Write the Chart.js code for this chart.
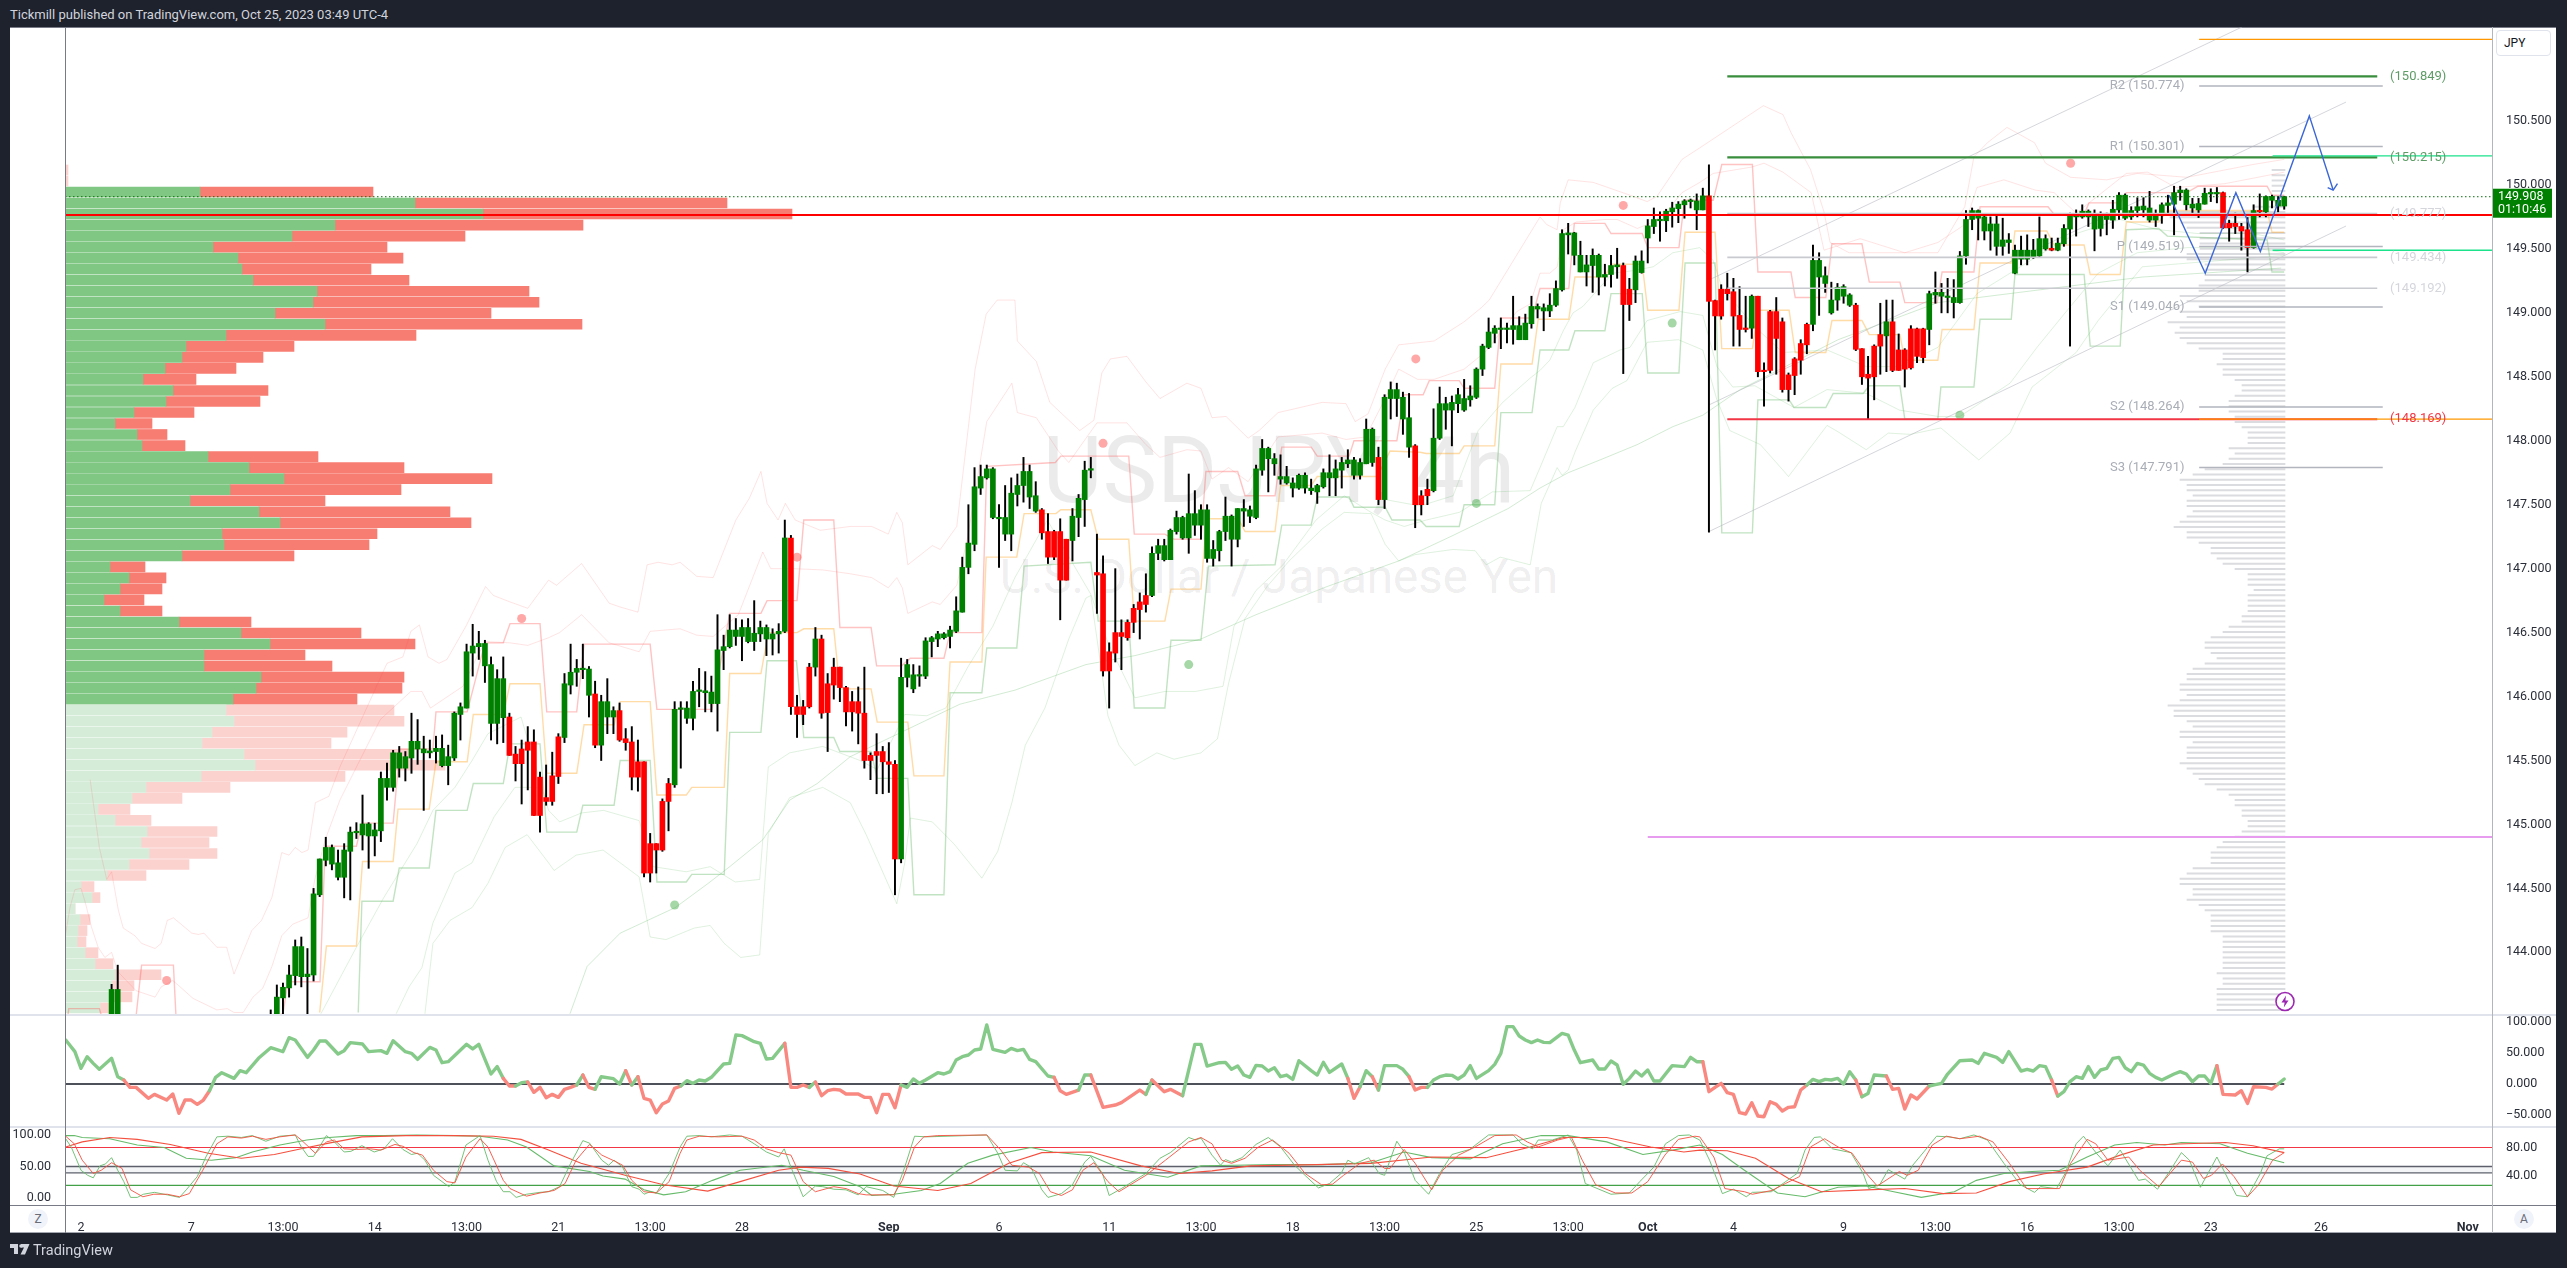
<!DOCTYPE html>
<html>
<head>
<meta charset="utf-8">
<title>USDJPY 4h</title>
<script src="https://cdn.jsdelivr.net/npm/chart.js@4"></script>
<style>
  html, body { margin: 0; padding: 0; width: 2567px; height: 1268px; overflow: hidden; background: #1e222d; font-family: Roboto, sans-serif; }
  canvas { position: absolute; left: 10px; }
  .abs { position: absolute; }
  .panel { left: 10px; top: 27px; width: 2546px; height: 1206px; background: #fff; box-shadow: inset 0 1px 0 #787b86; }
  .mark { left: 0; width: 2558px; text-align: center; color: rgba(19,23,34,0.085); white-space: nowrap; }
  .pill { width: 20px; height: 20px; top: 1209px; border-radius: 50%; background: #f0f3fa; color: #6a6d78; font-size: 12px; line-height: 20px; text-align: center; }
</style>
</head>
<body>
<div class="abs panel"></div>
<div class="abs mark" style="top:416px;font-size:92px;line-height:110px">USDJPY, 4h</div>
<div class="abs mark" style="top:551px;font-size:47.5px;line-height:52px">U.S. Dollar / Japanese Yen</div>
<canvas id="vpChart" width="2546" height="987" style="top:27px"></canvas>
<canvas id="priceChart" width="2546" height="987" style="top:27px"></canvas>
<canvas id="momChart" width="2546" height="112" style="top:1014px"></canvas>
<canvas id="stochChart" width="2546" height="107" style="top:1126px"></canvas>

<div class="abs" style="left:10px;top:1014px;width:2546px;height:2px;background:#e0e3eb"></div>
<div class="abs" style="left:10px;top:1126px;width:2546px;height:2px;background:#e0e3eb"></div>
<div class="abs" style="left:10px;top:1205px;width:2546px;height:1px;background:#787b86"></div>
<div class="abs" style="left:10px;top:1232px;width:2546px;height:1px;background:#a3a6af"></div>
<div class="abs" style="left:65px;top:27px;width:1px;height:1206px;background:#787b86"></div>
<div class="abs" style="left:2492px;top:27px;width:1px;height:1206px;background:#b2b5be"></div>

<div class="abs" style="left:10px;top:7px;color:#d1d4dc;font-size:13px;line-height:16px;white-space:nowrap">Tickmill published on TradingView.com, Oct 25, 2023 03:49 UTC-4</div>
<div class="abs" style="left:2493px;top:28px;width:62px;height:32px;background:#fff"></div>
<div class="abs" style="left:2496px;top:30px;width:55px;height:26px;box-sizing:border-box;background:#fff;border:1px solid #e0e3eb;border-radius:4px;color:#131722;font-size:12px;line-height:24px;padding-left:7px">JPY</div>
<div class="abs pill" style="left:28px">Z</div>
<div class="abs pill" style="left:2514px">A</div>
<svg class="abs" style="left:2275px;top:991px" width="20" height="21" viewBox="0 0 20 21">
  <circle cx="10" cy="10.5" r="9" fill="#fff" stroke="#9c27b0" stroke-width="1.6"/>
  <path d="M11 4.5 L6.5 11.5 H9.6 L8.8 16.5 L13.5 9.5 H10.4 Z" fill="#9c27b0"/>
</svg>
<svg class="abs" style="left:10px;top:1244px" width="20" height="12" viewBox="0 0 20 12">
  <path d="M0 0 H8 V10 H4 V4 H0 Z M11 0 H19.5 L15 10.5 H10.5 L14 3.5 H11 Z" fill="#d1d4dc"/>
  <circle cx="11" cy="2" r="1.8" fill="#d1d4dc"/>
</svg>
<div class="abs" style="left:33px;top:1242px;color:#d1d4dc;font-size:14.5px;line-height:18px">TradingView</div>

<script>
// candles. arrays start at bar 5, bars 7-30 sit below the pane
const firstBar = 5;
const gap = Array(24).fill(null);
const opens = [143.30,143.30,...gap,
  143.30,143.30,143.644,143.722,143.818,143.81,143.81,143.823,144.45,
  144.72,144.69,144.587,144.587,144.79,144.935,144.918,144.91,144.91,144.95,
  145.29,145.29,145.44,145.44,145.52,145.59,145.56,145.56,145.57,145.46,
  145.46,145.52,145.86,145.91,146.34,146.39,146.24,145.79,145.79,145.835,
  145.84,145.55,145.59,145.645,145.645,145.37,145.21,145.38,145.685,145.68,
  146.09,146.19,146.21,146.01,146.02,145.62,145.84,145.84,145.89,145.67,
  145.645,145.49,145.49,144.85,144.85,145.18,145.32,145.31,145.90,145.83,
  145.83,146.04,146.03,145.945,145.945,146.36,146.39,146.47,146.47,146.43,
  146.43,146.49,146.45,146.45,146.49,146.51,147.24,145.92,145.92,146.23,
  146.23,146.45,146.10,146.23,146.23,146.07,145.96,145.96,145.87,145.54,
  145.57,145.57,145.49,145.47,144.73,146.15,146.06,146.16,146.16,146.43,
  146.45,146.46,146.47,146.51,146.66,147.01,147.19,147.63,147.71,147.40,
  147.39,147.27,147.27,147.58,147.65,147.56,147.45,147.46,147.29,147.29,
  147.29,147.23,147.22,147.40,147.54,147.77,146.97,146.96,146.35,146.50,
  146.50,146.58,146.69,146.74,146.79,146.79,147.12,147.07,147.07,147.29,
  147.24,147.24,147.34,147.34,147.08,147.08,147.14,147.29,147.23,147.23,
  147.45,147.41,147.40,147.77,147.86,147.82,147.70,147.67,147.63,147.63,
  147.63,147.61,147.60,147.64,147.71,147.71,147.77,147.82,147.73,147.73,
  147.82,147.83,147.87,147.54,148.33,148.33,148.17,147.95,147.96,147.57,
  147.62,147.61,148.02,148.24,148.24,148.29,148.24,148.32,148.34,148.56,
  148.73,148.84,148.87,148.87,148.87,148.79,148.79,148.915,149.03,149.015,
  149.015,149.06,149.18,149.61,149.45,149.32,149.32,149.37,149.28,149.28,
  149.30,149.36,149.37,149.185,149.18,149.315,149.585,149.675,149.72,149.72,
  149.79,149.815,149.845,149.87,149.805,149.805,149.915,149.096,149.185,149.185,
  149.165,148.98,148.88,148.88,149.13,148.55,149.01,149.01,148.93,148.515,
  148.64,148.76,148.91,148.91,149.28,149.23,149.00,149.10,149.13,149.06,
  149.06,148.72,148.52,148.74,148.83,148.82,148.93,148.71,148.71,148.875,
  148.875,148.875,148.87,149.14,149.13,149.12,149.08,149.08,149.445,149.73,
  149.74,149.64,149.64,149.52,149.52,149.55,149.31,149.42,149.42,149.435,
  149.445,149.50,149.505,149.49,149.54,149.655,149.75,149.75,149.75,149.655,
  149.66,149.73,149.725,149.805,149.74,149.75,149.80,149.805,149.725,149.725,
  149.765,149.84,149.85,149.94,149.845,149.82,149.805,149.85,149.93,149.93,
  149.94,149.70,149.70,149.675,149.65,149.51,149.80,149.79,149.88,149.835,149.835];
const highs = [143.75,143.90,...gap,
  143.55,143.745,143.76,143.90,144.097,144.12,144.03,144.50,144.73,
  144.90,144.84,144.80,144.85,144.98,145.014,145.23,145.014,145.01,145.41,
  145.48,145.58,145.61,145.57,145.87,145.82,145.69,145.66,145.69,145.70,
  145.62,145.88,145.95,146.41,146.565,146.51,146.44,146.31,146.21,146.31,
  145.87,145.61,145.66,145.765,145.74,145.41,145.465,145.565,145.71,146.18,
  146.41,146.29,146.41,146.235,146.12,146.01,146.14,145.92,145.95,145.75,
  145.765,145.66,145.49,144.93,144.85,145.20,145.36,145.96,145.96,145.96,
  146.12,146.22,146.195,146.16,146.64,146.48,146.64,146.61,146.60,146.61,
  146.75,146.59,146.56,146.53,146.57,147.38,147.26,146.01,145.97,146.26,
  146.54,146.48,146.18,146.30,146.23,146.08,146.04,146.075,146.23,145.56,
  145.71,145.61,145.64,145.50,146.30,146.29,146.25,146.24,146.46,146.47,
  146.51,146.50,146.55,146.78,147.09,147.50,147.79,147.81,147.81,147.79,
  147.50,147.65,147.71,147.74,147.87,147.81,147.68,147.47,147.43,147.30,
  147.39,147.23,147.47,147.58,147.84,147.87,147.27,147.10,146.42,147.00,
  146.60,146.60,146.72,146.81,146.96,147.17,147.23,147.23,147.31,147.45,
  147.41,147.74,147.61,147.50,147.50,147.22,147.30,147.56,147.42,147.47,
  147.54,147.49,147.81,148.01,147.95,147.90,147.89,147.80,147.71,147.74,
  147.75,147.70,147.66,147.78,147.89,147.85,147.87,147.93,147.87,147.86,
  148.17,148.10,147.95,148.36,148.46,148.45,148.38,148.37,147.97,147.61,
  147.70,148.25,148.42,148.34,148.35,148.41,148.48,148.43,148.57,148.755,
  148.96,148.90,148.96,148.92,149.13,148.97,148.99,149.13,149.07,149.07,
  149.15,149.25,149.65,149.70,149.63,149.56,149.45,149.50,149.46,149.38,
  149.45,149.505,149.39,149.27,149.445,149.485,149.73,149.82,149.79,149.81,
  149.865,149.87,149.885,149.89,149.93,149.975,150.157,149.10,149.22,149.31,
  149.27,149.205,149.13,149.14,149.13,148.61,149.02,149.12,148.96,148.53,
  148.65,148.79,148.92,149.53,149.47,149.36,149.24,149.23,149.22,149.15,
  149.075,148.72,148.66,148.75,149.075,149.10,149.10,148.835,148.72,148.90,
  148.88,148.88,149.17,149.32,149.23,149.27,149.26,149.48,149.80,149.82,
  149.805,149.765,149.75,149.765,149.74,149.62,149.53,149.60,149.61,149.575,
  149.75,149.61,149.585,149.585,149.69,149.78,149.805,149.845,149.805,149.805,
  149.79,149.78,149.88,149.94,149.93,149.83,149.90,149.90,149.95,149.805,
  149.86,149.92,149.99,149.99,149.97,149.895,149.895,149.975,149.97,149.98,
  149.945,149.725,149.78,149.70,149.745,149.845,149.93,149.915,149.92,149.91,149.91];
const lows = [143.20,143.20,...gap,
  143.20,143.25,143.40,143.65,143.745,143.73,143.40,143.776,144.436,
  144.676,144.645,144.566,144.426,144.41,144.89,144.80,144.657,144.754,144.866,
  145.19,145.26,145.37,145.34,145.40,145.47,145.11,145.52,145.48,145.45,
  145.31,145.50,145.66,145.91,146.16,146.29,146.11,145.66,145.63,145.64,
  145.54,145.34,145.16,145.27,145.07,144.94,145.15,145.15,145.32,145.64,
  146.02,146.08,146.14,145.84,145.60,145.50,145.71,145.71,145.65,145.58,
  145.27,145.26,144.59,144.55,144.62,144.79,144.95,145.29,145.44,145.79,
  145.74,145.92,145.88,145.88,145.73,146.21,146.38,146.40,146.28,146.42,
  146.36,146.43,146.32,146.325,146.34,146.50,145.86,145.68,145.78,145.91,
  146.16,145.83,145.57,145.98,145.96,145.77,145.73,145.63,145.44,145.35,
  145.24,145.24,145.25,144.45,144.70,146.075,146.03,146.08,146.14,146.31,
  146.39,146.45,146.38,146.50,146.66,146.96,147.14,147.58,147.70,147.39,
  147.01,147.22,147.14,147.49,147.52,147.47,147.44,147.23,147.04,147.07,
  146.60,146.91,147.06,147.25,147.33,147.71,146.65,146.16,145.91,146.27,
  146.21,146.44,146.50,146.45,146.66,146.78,147.07,147.06,147.07,147.27,
  147.23,147.12,147.26,147.23,147.05,147.02,147.06,147.22,147.02,147.17,
  147.33,147.36,147.39,147.73,147.60,147.73,147.66,147.66,147.56,147.62,
  147.59,147.58,147.51,147.63,147.57,147.57,147.63,147.79,147.70,147.70,
  147.82,147.80,147.50,147.47,148.17,148.19,148.05,147.87,147.32,147.42,
  147.50,147.60,148.01,148.09,147.96,148.22,148.23,148.27,148.33,148.51,
  148.72,148.765,148.72,148.765,148.755,148.79,148.79,148.88,148.96,148.86,
  148.97,149.05,149.17,149.46,149.375,149.32,149.21,149.16,149.14,149.21,
  149.20,149.27,148.525,148.94,149.08,149.31,149.39,149.62,149.56,149.635,
  149.67,149.705,149.74,149.82,149.65,149.805,147.285,148.71,148.95,149.10,
  148.74,148.74,148.85,148.80,148.50,148.27,148.53,148.52,148.38,148.31,
  148.36,148.52,148.68,148.86,148.98,149.16,148.99,149.02,149.075,149.05,
  148.705,148.44,148.17,148.32,148.52,148.54,148.54,148.55,148.42,148.56,
  148.61,148.61,148.75,149.075,149.00,149.00,148.96,149.075,149.38,149.65,
  149.57,149.57,149.49,149.45,149.45,149.465,149.305,149.375,149.375,149.425,
  149.44,149.49,149.485,149.485,149.52,148.74,149.60,149.74,149.675,149.485,
  149.60,149.61,149.66,149.73,149.73,149.73,149.75,149.75,149.71,149.675,
  149.70,149.76,149.61,149.88,149.805,149.775,149.745,149.85,149.87,149.86,
  149.66,149.56,149.62,149.49,149.32,149.505,149.75,149.75,149.82,149.79,149.81];
const closes = [143.71,143.71,...gap,
  143.45,143.65,143.727,143.823,144.045,144.045,143.83,144.457,144.73,
  144.82,144.82,144.70,144.80,144.94,144.945,145.004,145.004,144.957,145.36,
  145.36,145.56,145.56,145.53,145.65,145.65,145.59,145.575,145.595,145.595,
  145.53,145.87,145.92,146.35,146.395,146.415,146.415,146.25,146.14,146.14,
  145.54,145.475,145.475,145.58,145.07,145.07,145.18,145.18,145.375,146.10,
  146.19,146.22,146.22,146.215,145.62,145.96,145.96,145.89,145.66,145.64,
  145.37,145.37,144.62,144.62,144.80,144.80,145.18,145.90,145.91,145.91,
  146.04,146.05,146.045,146.035,146.365,146.39,146.52,146.52,146.54,146.54,
  146.495,146.54,146.54,146.49,146.51,147.24,145.92,145.86,145.86,145.92,
  146.45,145.87,145.875,146.09,146.07,145.88,145.88,145.87,145.50,145.50,
  145.54,145.49,145.47,144.73,146.15,146.25,146.17,146.17,146.435,146.46,
  146.49,146.49,146.52,146.67,147.01,147.20,147.64,147.72,147.78,147.78,
  147.40,147.40,147.59,147.65,147.76,147.76,147.57,147.28,147.09,147.09,
  146.91,146.91,147.41,147.55,147.77,147.78,146.95,146.20,146.20,146.34,
  146.47,146.46,146.58,146.68,146.72,147.12,147.18,147.18,147.30,147.40,
  147.40,147.43,147.43,147.46,147.46,147.15,147.29,147.41,147.41,147.47,
  147.47,147.46,147.78,147.94,147.94,147.86,147.72,147.72,147.67,147.73,
  147.73,147.63,147.65,147.75,147.75,147.78,147.83,147.85,147.85,147.83,
  148.09,148.09,147.54,148.34,148.40,148.40,148.34,148.18,147.50,147.50,
  147.57,148.02,148.29,148.29,148.30,148.36,148.33,148.35,148.56,148.74,
  148.85,148.88,148.88,148.88,148.90,148.90,148.92,149.05,149.05,149.04,
  149.06,149.19,149.62,149.625,149.625,149.45,149.375,149.45,149.45,149.30,
  149.37,149.375,149.065,149.065,149.405,149.405,149.68,149.73,149.73,149.795,
  149.82,149.85,149.875,149.875,149.875,149.915,149.09,148.976,148.975,149.15,
  148.975,148.87,148.87,149.13,148.54,148.54,148.55,148.80,148.40,148.40,
  148.51,148.63,148.75,149.41,149.41,149.29,149.10,149.20,149.205,149.14,
  148.715,148.50,148.49,148.50,148.74,148.93,148.55,148.55,148.56,148.57,
  148.66,148.65,149.15,149.16,149.16,149.13,149.12,149.445,149.73,149.80,
  149.80,149.75,149.695,149.695,149.57,149.57,149.49,149.49,149.49,149.49,
  149.58,149.58,149.49,149.545,149.66,149.76,149.76,149.795,149.795,149.77,
  149.77,149.77,149.81,149.92,149.92,149.80,149.83,149.835,149.82,149.77,
  149.845,149.86,149.94,149.96,149.96,149.85,149.855,149.935,149.94,149.94,
  149.665,149.665,149.675,149.64,149.51,149.80,149.79,149.91,149.91,149.88,149.908];

// volume profile on the left, rows from the top of the pane
const vpLevels = [150.117,150.031,149.945,149.859,149.773,149.686,149.600,149.514,149.428,149.342,149.255,149.169,149.083,148.997,148.911,148.824,148.738,148.652,148.566,148.480,148.393,148.307,148.221,148.135,148.049,147.962,147.876,147.790,147.704,147.618,147.531,147.445,147.359,147.273,147.187,147.100,147.014,146.928,146.842,146.756,146.669,146.583,146.497,146.411,146.325,146.238,146.152,146.066,145.980,145.894,145.807,145.721,145.635,145.549,145.463,145.376,145.290,145.204,145.118,145.032,144.945,144.859,144.773,144.687,144.601,144.514,144.428,144.342,144.256,144.170,144.083,143.997,143.911,143.825,143.739,143.652,143.566];
const vpBuy = [0,0,135,350,418,270,227,148,173,177,188,252,248,210,260,161,121,117,100,78,108,101,69,50,72,77,143,184,219,165,125,194,215,157,159,117,45,64,55,39,55,114,176,205,139,139,196,191,168,161,169,147,137,179,190,136,81,67,33,50,82,76,84,64,42,16,27,10,15,13,12,20,30,50,47,46,35];
const vpSell = [3,3,173,312,309,248,173,174,165,129,156,212,226,216,257,190,108,81,71,53,95,94,60,37,30,43,110,155,208,171,135,191,191,155,145,112,35,37,42,40,42,72,120,145,101,128,143,146,124,168,170,135,129,167,190,144,84,50,32,36,70,68,68,60,39,13,8,0,10,9,9,13,18,46,22,21,12];
const vpValueAreaEnd = 49;

// fixed range profile on the right
const rightLevels = [150.117,150.076,150.035,149.994,149.953,149.912,149.871,149.830,149.789,149.748,149.707,149.665,149.624,149.583,149.542,149.501,149.460,149.419,149.378,149.337,149.296,149.255,149.214,149.173,149.132,149.091,149.050,149.009,148.968,148.927,148.886,148.845,148.803,148.762,148.721,148.680,148.639,148.598,148.557,148.516,148.475,148.434,148.393,148.352,148.311,148.270,148.229,148.188,148.147,148.106,148.065,148.024,147.983,147.941,147.900,147.859,147.818,147.777,147.736,147.695,147.654,147.613,147.572,147.531,147.490,147.449,147.408,147.367,147.326,147.285,147.244,147.203,147.162,147.121,147.079,147.038,146.997,146.956,146.915,146.874,146.833,146.792,146.751,146.710,146.669,146.628,146.587,146.546,146.505,146.464,146.423,146.381,146.340,146.299,146.258,146.217,146.176,146.135,146.094,146.053,146.012,145.971,145.930,145.889,145.848,145.807,145.766,145.725,145.684,145.643,145.602,145.560,145.519,145.478,145.437,145.396,145.355,145.314,145.273,145.232,145.191,145.150,145.109,145.068,145.027,144.986,144.945,144.904,144.863,144.822,144.781,144.740,144.698,144.657,144.616,144.575,144.534,144.493,144.452,144.411,144.370,144.329,144.288,144.247,144.206,144.165,144.124,144.083,144.042,144.001,143.959,143.918,143.877,143.836,143.795,143.754,143.713,143.672,143.631,143.590,143.549,143.508];
const rightVolumes = [13,13,13,13,13,13,13,32,117,115,104,98,85,85,85,85,98,98,80,80,80,80,86,86,105,98,86,105,98,117,105,110,105,98,86,62,62,68,62,62,50,43,43,50,56,56,56,50,50,43,37,37,37,56,50,56,62,80,92,105,98,98,92,98,98,92,98,105,111,98,98,86,74,74,68,62,50,37,37,37,31,37,37,37,37,43,43,56,62,74,80,80,74,68,80,92,98,98,105,105,98,105,117,111,111,98,92,105,105,92,98,98,98,105,98,92,86,80,68,56,50,50,43,43,37,37,43,50,62,68,74,74,74,92,98,105,105,92,92,98,86,80,74,74,74,74,62,62,62,62,62,62,62,68,62,62,68,68,68,68,68,68];

// band lines as [bar, price]
const upperStep = [[-2.4,143.4],[-2,143.56],[3,143.56],[4,143.4],[9,143.5],[9.9,143.90],[15.1,143.90],[15.5,143.52],[16,143.3],[33,143.52],[33.8,143.77],[39.05,143.77],[39.9,144.83],[45,144.83],[45.9,145.01],[51,145.01],[52.1,145.59],[57.5,145.59],[58,145.88],[63.1,145.88],[66,146.42],[69,146.42],[70.1,146.57],[75,146.57],[76.1,145.88],[81,145.88],[82.2,146.41],[93,146.41],[94.1,145.90],[103.1,145.90],[106,146.65],[111.1,146.65],[112.1,146.75],[117,146.75],[118.1,147.38],[123,147.38],[124,146.54],[129.1,146.54],[130,146.24],[134.1,146.24],[135.5,146.30],[141,146.30],[142,146.50],[147.2,146.50],[148,147.80],[159.2,147.83],[160.1,147.88],[171.2,147.88],[172.1,147.27],[177.1,147.27],[178.6,147.23],[183,147.23],[183.8,147.76],[189,147.76],[190.2,147.57],[195.1,147.57],[196.2,147.95],[201,147.95],[202,147.88],[207.2,147.88],[208,148.0],[215,148.0],[216.2,148.36],[219.3,148.36],[220.3,148.47],[225.2,148.47],[226,148.41],[231,148.41],[232,148.96],[237.1,148.96],[238.4,149.19],[243.1,149.19],[244,149.70],[249,149.70],[250,149.62],[255.1,149.62],[256,149.51],[261.1,149.51],[262,149.88],[266.7,149.88],[268.1,150.16],[273.1,150.16],[274,149.32],[279.4,149.32],[280.1,149.12],[285.1,149.12],[286.1,149.54],[291,149.54],[292.2,149.24],[297.2,149.24],[298,149.08],[303.3,149.08],[304.1,149.32],[309.3,149.32],[310.3,149.83],[321.4,149.83],[322.4,149.77],[327.3,149.77],[328.1,149.86],[333.2,149.86],[334.2,149.94],[344.1,149.94],[345.9,149.99],[357.2,149.99],[358,149.92],[360,149.92]];
const midStep = [[39,143.53],[40.1,144.05],[45,144.05],[46,144.71],[51,144.71],[51.8,145.12],[56.9,145.12],[58,145.49],[63.1,145.49],[64.1,145.86],[69,145.86],[70.1,146.10],[75,146.10],[76.1,145.40],[81,145.40],[82.2,145.78],[87.1,145.78],[88.1,145.96],[93,145.96],[94.1,145.23],[98.9,145.23],[99.8,145.29],[105.1,145.29],[106,146.18],[111.1,146.18],[112.3,146.50],[117,146.50],[118.1,146.53],[123,146.53],[124,146.06],[129.1,146.06],[130.1,145.80],[135.1,145.80],[136.1,145.38],[141,145.38],[142,146.27],[147.2,146.27],[147.9,147.09],[152.9,147.09],[154.1,147.43],[159.3,147.43],[160.1,147.46],[165,147.46],[166.2,147.23],[171.2,147.23],[172.1,146.59],[177.1,146.59],[178.1,146.84],[183,146.84],[183.9,147.39],[189.1,147.39],[190.2,147.29],[195.1,147.29],[196,147.65],[201,147.65],[202,147.72],[211.8,147.72],[213.9,147.92],[218.8,147.91],[219.8,147.90],[225.2,147.90],[226,147.96],[231,147.96],[232,148.60],[237.1,148.60],[238.1,148.95],[243.1,148.95],[244.1,149.28],[249,149.28],[250,149.38],[255.1,149.38],[256,149.02],[261.1,149.02],[262.1,149.63],[267,149.63],[268.1,148.72],[273.1,148.72],[274,149.02],[279.1,149.02],[280.1,148.69],[285.1,148.69],[286.1,148.94],[291,148.94],[292.2,148.83],[297.2,148.83],[298,148.63],[303.4,148.63],[304.1,148.87],[309.3,148.87],[310.3,149.39],[315.4,149.39],[316,149.64],[321.2,149.64],[322.4,149.53],[327.3,149.53],[328.3,149.30],[333.2,149.30],[334.2,149.71],[339.5,149.71],[340.9,149.80],[357.2,149.80],[358,149.63],[360,149.63]];
const lowerStep = [[45.3,143.53],[45.9,144.40],[51,144.40],[52,144.66],[56.9,144.66],[58,145.11],[63.1,145.11],[64.1,145.32],[69,145.32],[70.1,145.63],[75,145.63],[76.1,144.94],[81,144.94],[82,145.15],[87.1,145.15],[88.1,145.50],[93,145.50],[94.1,144.55],[98.9,144.55],[99.8,144.61],[105.1,144.61],[106,145.72],[111.1,145.72],[112.1,146.28],[116.9,146.28],[118.1,145.68],[123,145.68],[124,145.57],[129.1,145.57],[130.1,145.36],[135.1,145.36],[136.1,144.45],[141,144.45],[142,146.03],[147.2,146.03],[148,146.38],[152.9,146.38],[154.1,147.02],[165,147.05],[166.2,146.59],[171.2,146.59],[172.1,145.91],[177.1,145.91],[178.1,146.44],[183,146.44],[184.2,147.02],[195.1,147.03],[196.2,147.34],[201,147.34],[202,147.56],[207.2,147.56],[208,147.48],[213.1,147.48],[214.2,147.38],[218.8,147.38],[219.8,147.33],[225.2,147.33],[226,147.50],[231,147.50],[232,148.22],[237.1,148.22],[238.4,148.71],[243.1,148.71],[244.1,148.86],[249,148.86],[250,149.15],[255.1,149.15],[256,148.53],[261.1,148.53],[262.1,149.39],[267,149.39],[268.1,147.28],[273.1,147.28],[274,148.32],[279.1,148.32],[279.9,148.26],[285.1,148.26],[286.3,148.37],[291.2,148.37],[292.2,148.43],[297.2,148.43],[298,148.17],[303.4,148.17],[303.9,148.42],[309.3,148.42],[310.3,148.95],[315.4,148.95],[316,149.30],[321.4,149.30],[322.1,149.30],[327.3,149.30],[328.3,148.74],[333.2,148.74],[334.2,149.65],[339.5,149.66],[340.9,149.60],[357.2,149.57],[358,149.32],[360,149.32]];
const upperBand1 = [[1.5,145.35],[3,144.82],[4.2,144.57],[5,144.63],[6.1,144.33],[6.9,144.19],[8.8,144.13],[9.9,144.07],[12.1,144.03],[13.1,144.07],[14.1,144.25],[15.1,144.27],[18.1,144.15],[19.2,144.14],[20.1,144.15],[22.2,144.04],[23.8,144.04],[25,143.83],[27.9,144.17],[29.5,144.25],[31.2,144.43],[32.8,144.78],[34,144.76],[35,144.82],[36.1,144.78],[37.1,144.80],[38.3,145.17],[40.5,145.22],[42.3,145.45],[50,146.26],[52.6,146.31],[53.9,146.51],[55.3,146.56],[56.7,146.31],[58.5,146.26],[59.8,146.29],[62.9,146.55],[66.1,146.86],[67.4,146.79],[70.1,146.74],[73,146.69],[76.4,146.91],[77.7,146.87],[81.8,147.04],[86.3,146.73],[88.1,146.70],[91,146.66],[92.5,147.03],[94.3,147.05],[96.6,147.03],[97.9,147.05],[100.6,146.94],[103.3,146.93],[107,147.38],[109.2,147.55],[111.1,147.76],[112.1,147.51],[113.9,147.38],[115.1,147.51],[116.7,147.38],[120.8,147.30],[125.7,147.33],[129.2,147.33],[131.9,147.27],[133.3,147.44],[134.2,147.36],[135.1,147.03],[139.1,147.18],[140.4,147.15],[143.1,147.33],[146.1,148.56],[147.9,148.99],[149.7,149.10],[152.6,149.10],[153,148.78],[156.1,148.62],[158.3,148.30],[163.2,148.08],[165.5,148.16],[166.8,148.53],[168.2,148.64],[170.9,148.66],[174,148.46],[176.3,148.33],[180.7,148.45],[183,148.41],[184.8,148.18],[187.1,148.19],[190.7,148.02],[192.5,148.08],[195.6,148.22],[202.8,148.30],[206.7,148.29],[208.2,148.15],[210.3,148.21],[213.1,148.56],[215.3,148.75],[221.1,148.78],[226,148.93],[228.8,149.04],[230.1,149.10],[238.4,149.75],[239.5,149.69],[241.2,149.65],[241.7,149.86],[243,150.04],[247.1,150.02],[253.1,149.92],[255.9,149.87],[257.5,149.91],[261.6,150.20],[264.5,150.29],[274.9,150.62],[278.1,150.55],[279.4,150.41],[282.6,150.12],[284.8,149.79],[285.8,149.55],[288.9,149.47],[303.4,149.47],[307.8,149.83],[309.3,150.22],[311.5,150.33],[314.7,150.45],[319.2,150.33],[321,150.17],[325.1,150.06],[331,150.04],[336,150.09],[344.1,150.06],[354.9,150.16],[360,150.20]];
const upperBand2 = [[-2.6,144.12],[-1.8,144.35],[-1,144.49],[0,144.50],[.7,144.39],[1.7,144.20],[2.8,144.04],[3.9,143.96],[5,144.00],[6,143.85],[9,143.70],[12.1,143.65],[13.1,143.73],[15,143.78],[16.2,143.73],[18.3,143.64],[22.2,143.55],[23.9,143.56],[25,143.53],[26.5,143.53],[28.1,143.65],[29.7,143.72],[31.2,143.89],[32.8,144.13],[34.6,144.22],[37.1,144.27],[38.2,144.57],[39.9,144.88],[42.3,145.19],[48.9,145.82],[53.9,146.04],[55.7,146.04],[57.1,145.91],[62.4,146.08],[64.7,146.31],[66.1,146.43],[70.1,146.42],[73,146.40],[76.4,146.46],[78.2,146.50],[81.8,146.64],[86.3,146.42],[91.2,146.35],[93,146.51],[97.9,146.53],[100.6,146.48],[103.3,146.47],[107.4,146.64],[111.4,147.13],[112.7,147.00],[116.3,147.00],[121.2,146.99],[125.7,146.96],[129.2,146.93],[131.9,146.85],[133.3,146.93],[134.2,146.85],[135.1,146.65],[139.1,146.74],[140.4,146.72],[143.1,146.87],[144.9,147.25],[148,148.15],[152.1,148.45],[153,148.22],[156.1,148.18],[159.7,147.92],[161.4,147.83],[166,148.14],[170.9,148.14],[174,147.97],[176.3,147.87],[180.7,147.93],[183,147.92],[184.8,147.70],[187.5,147.79],[190.7,147.68],[195.6,148.03],[202.8,148.06],[206.7,148.01],[209.9,148.03],[213.1,148.33],[215.3,148.56],[218.4,148.48],[221.1,148.48],[226,148.56],[229.6,148.70],[232.3,148.87],[234.6,149.01],[236.8,149.07],[238.4,149.31],[240,149.31],[241.2,149.36],[242.2,149.65],[244.3,149.71],[249,149.73],[251,149.73],[254.3,149.66],[256.9,149.71],[259.2,149.80],[261.6,149.94],[264.5,150.02],[266.7,150.09],[273,150.14],[275,150.17],[278.1,150.10],[282.7,149.94],[284.8,149.49],[290.7,149.58],[298,149.47],[303.4,149.55],[307.8,149.69],[309.8,149.98],[314.2,150.04],[319.3,149.96],[322.4,149.94],[326,149.78],[334.2,150.09],[337.7,150.10],[342.3,149.98],[350.3,150.01],[360,150.10]];
const lowerBand1 = [[51.5,143.52],[53.6,143.73],[55.7,143.88],[57.5,144.23],[61.1,144.62],[63.9,144.70],[67.5,145.06],[70.9,145.29],[74.5,145.29],[null,null],[213.1,147.54],[218.8,147.49],[224.2,147.57],[228.3,148.08],[232.3,148.30],[236.8,148.49],[238.4,148.55],[240,148.63],[242.2,148.86],[243.8,149.00],[245.4,149.05],[248.2,149.20],[250.3,149.31],[253.6,149.33],[256.9,149.36],[260.1,149.47],[264.5,149.51],[266.7,149.41],[268.1,149.20],[273.5,148.89],[278.1,148.69],[285.3,148.71],[291.7,148.58],[297.1,148.58],[303.4,148.73],[309.8,149.15],[315.2,149.31],[320.6,149.47],[326,149.62],[333.2,149.73],[339.5,149.65],[345.9,149.62],[354.9,149.62],[360,149.57]];
const lowerBand2 = [[39.2,143.52],[45,144.04],[49.5,144.43],[54.9,144.85],[57.5,145.11],[61.1,145.29],[63.9,145.50],[66.5,145.71],[71.9,145.84],[76.4,145.11],[78.2,145.02],[81.8,145.09],[85.4,145.11],[91.2,145.03],[93.5,144.67],[98.9,144.63],[102.8,144.67],[106.9,144.55],[110.9,144.57],[112.3,145.45],[115.8,145.56],[121.2,145.61],[127.3,145.50],[130.1,145.43],[134.6,145.86],[138.2,145.85],[141.3,145.91],[144.9,146.23],[149,146.55],[152.6,146.93],[157.9,147.38],[165,146.80],[167.8,146.42],[172.2,145.99],[177.1,146.04],[182.1,146.04],[186.6,146.08],[188.4,146.55],[192,146.83],[196.4,147.03],[201.8,147.38],[206.4,147.57],[210.8,147.44],[213.1,147.38],[216.2,147.33],[219.8,147.38],[225.2,147.44],[230.6,147.60],[236.8,147.61],[238.4,147.79],[241.2,148.11],[242.2,148.11],[244.1,148.26],[247.1,148.61],[251.5,148.71],[253.1,148.73],[255.9,148.94],[261.3,149.01],[265,148.98],[267.3,148.58],[269.9,148.42],[273.5,148.43],[279.9,148.26],[285.3,148.40],[291.7,148.37],[297.1,148.24],[303.4,148.19],[307,148.19],[315.2,148.45],[319.6,148.73],[324.2,149.00],[329.6,149.31],[336,149.47],[344.1,149.51],[354.9,149.51],[360,149.47]];
const lowerBand3 = [[56.2,143.52],[57.5,144.07],[60.3,144.25],[63.9,144.35],[66.5,144.54],[69.3,144.82],[72.9,144.92],[76.4,144.70],[77.3,144.64],[80.9,144.76],[85.3,144.80],[91.2,144.59],[93,144.12],[95.6,144.10],[100.2,144.19],[102.8,144.21],[105.1,144.07],[107.8,143.96],[110.9,143.98],[112.3,144.93],[115.8,145.21],[121.2,145.29],[125.7,145.17],[128.3,144.92],[133.3,144.38],[134.6,144.70],[135.5,145.05],[139.1,145.02],[142.6,144.85],[147.2,144.58],[149.8,144.79],[152.1,145.17],[154.3,145.62],[157.5,145.91],[161.4,146.45],[164.2,146.77],[165,146.79],[167.8,145.85],[169.6,145.62],[172.2,145.46],[175.8,145.56],[178.6,145.51],[183,145.56],[185.7,145.67],[187.5,146.10],[190.2,146.61],[193.8,146.86],[197.4,147.06],[202.8,147.31],[206.4,147.44],[210.8,147.43],[213.1,147.19],[215.3,147.06],[218,147.11],[224.2,147.15],[227.8,147.14],[229.6,147.03],[231.9,147.09],[236.8,147.03],[238.6,147.51],[241.2,147.79],[242,147.73],[243,147.77],[244.1,147.91],[247.1,148.24],[250.2,148.41],[252.6,148.47],[255.9,148.77],[261,148.79],[265,148.71],[267.3,148.32],[269.4,148.08],[274.4,147.97],[278.1,147.77],[279,147.72],[285.3,148.12],[287.1,148.07],[291.7,147.93],[295.3,148.06],[298.9,148.05],[303.9,148.10],[310.1,147.85],[315.2,148.06],[318.8,148.42],[326,148.69],[329.6,148.94],[336.8,149.36],[360,149.45]];
const slowAverage = [[79.9,143.52],[82.7,143.89],[88.1,144.15],[97.1,144.35],[102.5,144.54],[106,144.67],[111.4,144.88],[115.8,145.19],[120.3,145.32],[125.7,145.53],[143.6,145.94],[152.6,146.05],[164.2,146.25],[172.2,146.32],[183,146.45],[192,146.64],[203.6,146.86],[215.3,147.06],[224.2,147.26],[233.2,147.47],[238.4,147.63],[243,147.75],[248.2,147.85],[254.3,147.97],[260.1,148.11],[265,148.20],[271.1,148.40],[287.1,148.79],[303.4,149.08],[323.4,149.20],[336.8,149.28],[359.5,149.35]];

const sellDots = [[14,143.78],[72,146.61],[117,147.09],[167,147.98],[218.1,148.64],[252,149.84],[325.1,150.17]];
const buyDots = [[97,144.37],[181,146.25],[228,147.51],[260,148.92],[307,148.20]];

// drawings on the price pane
const channelTop = [[266,149.257],[353.1,151.235]];
const channelMid = [[266,148.28],[370.1,150.648]];
const channelLow = [[266,147.29],[370.1,149.679]];
const projection = [[341.2,149.92],[347.1,149.31],[352.1,149.94],[356.1,149.48],[364.1,150.54],[368,149.96]];
const arrowHead = [[367.1,149.98],[368,149.96],[368.7,150.01]];

const pivotNames = ['R2','R1','P','S1','S2','S3'];
const pivotLevels = [150.774,150.301,149.519,149.046,148.264,147.791];
const targetLevels = [150.849,150.215];
const midLevels = [149.777,149.434,149.192];
const stopLevel = 148.169;
const limeLevels = [150.227,149.49];
const orangeLevels = [151.139,148.169];
const purpleLevel = 144.902;
const keyLevel = 149.765;
const lastPrice = 149.908;
const lastPriceText = '149.908';
const countdownText = '01:10:46';

// momentum pane
const momentum = [[-2.5,71],[-1,52.2],[0,25.3],[1,44.1],[2,33.3],[3,23.7],[5,41.4],[6,11.8],[7,6.5],[8,-5.4],[9,-5.4],[11,-23.1],[12,-16.7],[14,-25.8],[15,-16.1],[16,-47.3],[17,-25.8],[18,-25.8],[19,-32.8],[20,-25.8],[21,-10.8],[22,10.8],[23,18.3],[25,9.1],[26,21.5],[27,18.3],[29,41.4],[31,58.6],[33,52.2],[34,74.7],[35,71],[37,43],[38,54.8],[39,69.4],[40,69.4],[42,48.4],[43,53.8],[44,66.7],[46,64.5],[47,52.2],[49,53.8],[50,49.5],[51,69.9],[53,52.2],[54,49.5],[55,39.8],[57,59.1],[58,54.8],[59,34.4],[60,36],[63,64],[64,56.5],[65,64],[67,16.1],[68,28],[69,9.1],[70,-3.2],[71,-3.2],[72,2.2],[73,3.2],[74,-13.4],[75,-5.4],[76,-22],[77,-16.7],[78,-21.5],[79,-8.6],[80,-5.4],[81,-1.6],[82,14.5],[83,-5.4],[84,-8.6],[85,11.8],[87,8.6],[88,0],[89,21.5],[90,-1.6],[91,11.8],[92,-23.1],[93,-25.8],[94,-46.2],[95,-32.3],[96,-27.4],[97,-7],[98,-3.2],[99,5.4],[100,1.1],[101,6.5],[102,4.8],[103,10.8],[105,32.3],[106,33.3],[107,79],[108,78],[110,68.3],[111,65.6],[112,40.3],[113,41.4],[115,65.6],[116,-5.4],[117,-5.4],[118,-1.6],[119,-5.4],[120,3.2],[121,-18.8],[122,-10.8],[123,-8.6],[124,-9.7],[125,-16.1],[127,-16.1],[128,-21.5],[129,-21.5],[130,-46.2],[131,-16.7],[132,-16.7],[133,-38.2],[134,-1.6],[135,-5.4],[136,8.1],[137,1.1],[138,6.5],[140,18.3],[141,16.1],[142,19.9],[143,38.7],[144,44.1],[145,46.8],[146,54.8],[147,56.5],[148,95.2],[149,55.9],[151,51.1],[152,57.5],[153,53.8],[154,55.9],[155,39.8],[156,36],[158,12.9],[159,10.8],[160,-10.8],[161,-16.7],[163,-9.7],[164,14.5],[165,14.5],[167,-37.6],[169,-33.9],[170,-30.1],[173,-9.7],[174,-16.7],[175,6.5],[177,-12.4],[178,-8.6],[180,-18.8],[182,64],[183,64],[184,29],[186,34.4],[187,34.9],[188,23.7],[189,29],[190,14.5],[191,10.8],[192,30.1],[193,29],[194,21],[195,26.3],[196,11.8],[197,14.5],[198,7.5],[199,37.6],[201,21.5],[202,14.5],[203,34.9],[204,18.8],[206,32.3],[207,9.1],[208,-23.1],[209,-4.3],[210,21.5],[211,11.8],[212,-9.7],[213,29.6],[215,29.6],[216,23.7],[217,11.8],[218,-9.7],[219,-5.4],[220,-5.4],[221,6.5],[222,11.8],[223,14.5],[224,14],[225,8.1],[226,14.5],[227,29.6],[228,9.1],[230,21.5],[231,31.7],[232,49.5],[233,92.5],[234,92.5],[235,77.4],[236,71],[237,66.7],[238,71],[239,67.2],[240,66.7],[242,81.7],[243,79],[244,54.8],[245,34.4],[247,38.7],[248,24.2],[249,24.2],[250,37.1],[251,30.6],[252,-.5],[253,9.1],[254,21],[255,12.9],[256,22.6],[257,4.8],[258,4.8],[260,29.6],[262,28],[263,43],[264,36],[265,36],[266,-12.4],[267,-5.4],[268,1.1],[269,-14],[270,-16.7],[271,-46.2],[272,-48.4],[273,-30.1],[274,-51.6],[275,-52.7],[276,-28.5],[277,-32.8],[278,-43.5],[279,-37.6],[280,-36.6],[281,-9.7],[282,-1.6],[283,7.5],[284,3.8],[285,7.5],[286,6.5],[287,9.1],[288,0],[289,19.9],[290,6.5],[291,-20.4],[292,-15.1],[293,14.5],[295,12.9],[296,-8.6],[297,-7],[298,-40.3],[299,-17.7],[300,-24.2],[302,-3.2],[303,-1.1],[304,1.1],[305,16.1],[307,37.6],[309,38.7],[310,33.3],[311,49.5],[313,43],[314,34.9],[315,52.2],[317,21],[318,23.7],[319,21],[320,29.6],[321,28],[322,6.5],[323,-19.4],[324,-12.4],[325,3.8],[326,11.8],[327,9.1],[328,28],[329,10.8],[330,22.6],[331,25.3],[332,41.4],[333,43],[334,26.3],[335,19.9],[336,33.3],[337,30.6],[338,17.2],[339,10.8],[340,6.5],[342,16.1],[343,19.9],[344,16.1],[345,3.8],[346,12.9],[347,12.9],[348,1.1],[349,29.6],[350,-16.7],[352,-17.7],[353,-10.8],[354,-31.2],[355,-4.3],[357,-5.4],[358,-8.1],[359,0],[360,8.1]];
const momentumFlips = [7,21,69,71,73,81,82,84,89,90,91,98,115,119,120,134,159,163,165,174,175,180,207,209,211,212,217,220,265,282,290,291,295,302,322,323,349,359];
const momentumZero = [[-2.6,0],[360,0]];
const momentumTicks = [-50,0,50,100];

// stochastic pane
const fastK = [[-2.5,94],[-1.6,81],[0,44],[1.1,36],[2,32],[3.1,51],[4,54],[5,64],[6,44],[7,26],[8.1,1],[9.2,1],[10.2,6],[12,9],[14.1,5],[16.1,1],[17.2,13],[19,34],[20.4,65],[22.2,97],[24,98],[26.2,96],[28,99],[30.2,90],[32.5,98],[35,100],[36,81],[37.1,66],[38,66],[40.1,99],[41.4,89],[43,73],[44.1,74],[45.9,83],[47.9,73],[49.5,78],[50.9,94],[52.6,77],[54,69],[55,71],[56.2,60],[57.6,36],[60.1,18],[61.1,26],[62.9,84],[65.2,99],[66.5,60],[67.9,26],[69,10],[70.1,10],[71.1,1],[72.8,6],[75,9],[76.4,10],[78.2,18],[80,55],[82,91],[83.1,87],[85.1,60],[86.2,52],[87.1,60],[88.5,49],[90,18],[91.2,14],[92,6],[93,10],[94,8],[96.1,39],[97.9,81],[99,98],[101,99],[103,97],[106,100],[108,98],[110,86],[112,73],[114,65],[114.9,78],[116,49],[118,2],[120,19],[121.2,18],[123,14],[125,13],[127,5],[128.3,18],[131,12],[132.8,1],[134.6,49],[136.2,98],[138.2,97],[148,100],[149.8,71],[151,44],[153,43],[154,56],[155.2,49],[157,13],[158,1],[160.2,7],[162,21],[164,57],[165,66],[166.9,39],[168,4],[170,15],[174,39],[176.3,63],[178,72],[181,96],[182.1,92],[183,95],[184.8,68],[186.2,52],[187,61],[188,57],[189.7,64],[192,85],[194,96],[196,81],[198.3,52],[200,36],[202.2,16],[204,23],[205.9,39],[207,60],[208.1,54],[210.4,64],[212.1,39],[213,36],[215,90],[216.2,73],[218,28],[220.2,6],[222,39],[224,69],[226.9,77],[230,100],[234,100],[235.4,86],[237.2,78],[238.1,92],[240.4,92],[243,100],[244.4,76],[245.8,23],[250,6],[253,8],[254.7,26],[257,49],[258.9,86],[261,99],[262.8,100],[264.5,92],[266.1,60],[268.2,7],[270,14],[272.1,2],[273.1,9],[276.2,10],[278.1,23],[280.4,39],[281.7,76],[283.2,96],[284.2,97],[286.2,78],[289.2,72],[291.2,39],[292.1,15],[293.9,21],[295.3,45],[298,30],[299.3,52],[301.1,73],[303.2,98],[305.2,97],[307,94],[309.3,100],[311.5,92],[314.2,55],[316.9,21],[319.2,9],[320.2,18],[322.8,15],[324.2,39],[326,86],[327.2,98],[329.3,71],[331.2,51],[333.2,76],[336.2,28],[337.3,30],[339.3,14],[341.4,44],[343.2,72],[344.5,60],[346.3,17],[349,65],[352.2,4],[354,2],[356.1,39],[357.2,67],[359.2,78],[360,78]];
const fastD = [[-2.5,98],[-1.1,86],[.2,60],[2,39],[3.3,44],[5,56],[6.7,47],[8.1,13],[10.1,2],[11.9,6],[14.1,6],[16.1,2],[17.7,7],[19.9,44],[22.2,86],[24,97],[26.2,95],[28,98],[30.2,93],[32.5,97],[35,100],[36,92],[38.3,71],[40.1,89],[41.4,92],[43,78],[45,77],[47.3,78],[49,76],[51.3,85],[52.6,82],[54.4,72],[55.8,68],[57.6,44],[59.8,26],[61.1,24],[62.9,65],[65.2,94],[66.5,81],[69,28],[70.1,15],[72.8,3],[75,8],[77.3,12],[79.1,23],[80.9,60],[83.1,85],[85.1,68],[87.1,59],[88.5,52],[90,28],[92,10],[94,8],[96.1,26],[97.9,71],[99,92],[101,98],[104.1,97],[108,98],[110,92],[112,78],[114,72],[116,68],[118,26],[120,10],[123,18],[125,15],[127,7],[128.3,5],[132.8,5],[134.2,28],[136.2,81],[137.7,97],[140,99],[148,100],[150.3,76],[152.1,52],[154.8,49],[156.6,39],[158.4,10],[160.2,4],[162,13],[163.7,44],[165.5,56],[167.8,26],[169.6,10],[174,36],[177.2,60],[181,89],[183,96],[184.8,86],[186.4,60],[188,55],[190.2,63],[192.4,81],[194.7,92],[197.4,71],[200,39],[202.7,21],[204.5,22],[206.3,36],[209,55],[211.3,60],[213,47],[213.9,47],[216.2,77],[218,55],[220.7,13],[222.5,44],[225.1,68],[227.8,81],[231,99],[234.5,100],[236.3,89],[238.1,81],[241.3,92],[243.5,97],[245.3,60],[247.5,21],[250.7,8],[253.4,8],[256,26],[258.8,68],[261,93],[263.7,98],[264.5,97],[266.8,65],[268.6,15],[271.8,10],[273.1,6],[276.3,12],[278.5,23],[280.8,34],[282.6,81],[284.9,94],[287.1,81],[289.4,71],[291.7,39],[293.5,19],[297.1,42],[298.4,36],[300.2,44],[302.5,84],[304.8,98],[307,94],[310.2,98],[312.4,89],[315.1,55],[317.9,15],[323.3,15],[325.1,55],[327.8,93],[329.2,86],[331.2,60],[334.6,65],[336.4,44],[339.5,18],[343.2,60],[345,57],[346.8,31],[348.1,36],[349.9,54],[351.8,34],[354,2],[355.8,21],[358.1,60],[360,72]];
const slowK = [[-2.5,99],[-1.1,99],[.2,96],[4.7,94],[9.2,84],[13.6,80],[17.2,63],[21.3,60],[25.3,64],[28,73],[32.5,84],[36.9,92],[40.5,96],[45,99],[49.5,99],[54.9,100],[61.1,99],[65.2,98],[69.7,92],[72.8,81],[77.3,51],[83.1,42],[85.3,35],[88.9,30],[92,13],[95.2,5],[98.8,10],[103.2,28],[107.7,44],[114.5,52],[118,44],[123,34],[127.3,18],[129.2,4],[132.8,6],[137.3,12],[140.4,23],[144.9,55],[149,68],[155.2,80],[158.8,73],[165,67],[170.5,44],[177.6,33],[183,51],[188.4,52],[194.7,53],[202.7,53],[210.8,56],[216.2,73],[220.7,64],[227,62],[232.3,86],[238.6,99],[243,99],[249.3,89],[255.2,69],[260.1,76],[264.5,84],[268.2,69],[271.8,44],[277.2,8],[281.7,2],[287.1,17],[291.7,19],[296.2,10],[300.7,1],[306.1,10],[309.7,28],[314.2,39],[318.8,42],[323.3,44],[327.8,65],[332.3,84],[335.9,88],[340.5,84],[343.2,88],[349.5,86],[354,71],[360,56]];
const slowD = [[-2.5,81],[.2,89],[4.7,96],[9.2,93],[14.6,85],[20.8,71],[26.2,63],[31.6,69],[36,78],[40.5,87],[45.9,97],[53.1,99],[61.1,99],[67.4,98],[71.9,93],[76.4,76],[81.7,55],[88.9,36],[95.2,21],[102.4,11],[107.7,26],[114,44],[117.6,49],[122.1,47],[127.3,38],[132.8,19],[140,12],[145.4,23],[151.6,55],[157,72],[165,73],[173.2,51],[179.4,39],[184.8,43],[191.1,51],[201.8,53],[210.8,55],[220.7,65],[229.6,64],[236.8,81],[242.2,96],[249.3,96],[256.5,81],[261.9,73],[264.5,76],[269,75],[273.6,63],[279,31],[284.4,10],[291.7,13],[298,15],[304.3,7],[309.7,8],[315.1,26],[320.6,38],[327.8,49],[333.2,68],[338.6,84],[344,86],[350.4,88],[354.9,83],[360,72]];
const stochLeftTicks = [0,50,100];
const stochRightTicks = [40,80];

// time axis
const timeTickBars = [0,18,33,48,63,78,93,108,132,150,168,183,198,213,228,243,256,270,288,303,318,333,348,366,390];
const timeTickLabels = ['2','7','13:00','14','13:00','21','13:00','28','Sep','6','11','13:00','18','13:00','25','13:00','Oct','4','9','13:00','16','13:00','23','26','Nov'];
const priceTicks = [144,144.5,145,145.5,146,146.5,147,147.5,148,148.5,149,149.5,150,150.5,151];

const barMin = -2.614, barMax = 393.95;
const priceTop = 151.235, priceBottom = 143.518;
const axisFont = { family: 'Roboto', size: 12.5 };
const axisColor = '#2a2e39';

const pts = pairs => pairs.map(p => ({ x: p[0], y: p[1] }));

const lineSet = (pairs, color, width, order, extra) => ({
  type: 'line', data: pts(pairs), borderColor: color, borderWidth: width,
  pointRadius: 0, tension: 0, order: order, ...extra,
});
const levelSet = (start, end, price, color, width, order, extra) =>
  lineSet([[start, price], [end, price]], color, width, order, extra);

const noBox = s => { s.paddingTop = 0; s.paddingBottom = 0; s.paddingLeft = 0; s.paddingRight = 0; };
const sideAxis = (width, ticks, format, extra) => ({
  type: 'linear', grid: { display: false }, border: { display: false },
  afterBuildTicks: s => { s.ticks = ticks.map(v => ({ value: v })); },
  afterFit: s => { s.width = width; noBox(s); },
  ticks: { font: axisFont, color: axisColor, padding: 6, callback: format, autoSkip: false },
  ...extra,
});

const base = {
  responsive: false,
  animation: false,
  events: [],
  plugins: { legend: { display: false }, tooltip: { enabled: false } },
};

// left and right volume profiles, behind everything
const leftBuy = [], leftSell = [], buyColors = [], sellColors = [];
vpLevels.forEach((lvl, i) => {
  const strong = i >= 2 && i < vpValueAreaEnd;
  leftBuy.push({ y: lvl, x: [0, vpBuy[i]] });
  leftSell.push({ y: lvl, x: [vpBuy[i], vpBuy[i] + vpSell[i]] });
  buyColors.push(strong ? '#81c784' : '#d5ecd8');
  sellColors.push(strong ? '#f77c72' : '#fcd2cf');
});

new Chart(document.getElementById('vpChart'), {
  type: 'bar',
  data: {
    datasets: [
      { data: leftBuy, backgroundColor: buyColors, barThickness: 10, grouped: false, xAxisID: 'x' },
      { data: leftSell, backgroundColor: sellColors, barThickness: 10, grouped: false, xAxisID: 'x' },
      { data: rightLevels.map((lvl, i) => ({ y: lvl, x: rightVolumes[i] })), backgroundColor: 'rgba(190,192,197,0.55)', barThickness: 1.3, grouped: false, xAxisID: 'x2' },
    ],
  },
  options: {
    ...base,
    indexAxis: 'y',
    layout: { autoPadding: false, padding: { left: 55, right: 64 } },
    scales: {
      y: { type: 'linear', min: priceBottom, max: priceTop, display: false, offset: false },
      x: { type: 'linear', min: 0, max: 2427, display: false },
      x2: { type: 'linear', min: -207, max: 2220, reverse: true, display: false },
    },
  },
});

// candles as floating bars, wick and body
const wicks = [], bodies = [], bodyColors = [];
opens.forEach((o, i) => {
  if (o === null) return;
  const bar = firstBar + i;
  wicks.push({ x: bar, y: [lows[i], highs[i]] });
  bodies.push({ x: bar, y: [o, closes[i]] });
  bodyColors.push(closes[i] >= o ? '#008000' : '#ff0000');
});

const grayLine = '#b2b5be';
const priceSets = [
  lineSet(upperBand1, 'rgba(255,82,82,0.16)', 1, 30),
  lineSet(upperBand2, 'rgba(255,82,82,0.16)', 1, 30),
  lineSet(lowerBand1, 'rgba(76,175,80,0.18)', 1, 30),
  lineSet(lowerBand2, 'rgba(76,175,80,0.18)', 1, 30),
  lineSet(lowerBand3, 'rgba(76,175,80,0.18)', 1, 30),
  lineSet(slowAverage, 'rgba(76,175,80,0.25)', 1, 30),
  lineSet(upperStep, 'rgba(255,82,82,0.35)', 1.4, 29),
  lineSet(midStep, 'rgba(255,152,0,0.35)', 1.4, 29),
  lineSet(lowerStep, 'rgba(76,175,80,0.35)', 1.4, 29),
  lineSet(channelTop, 'rgba(178,181,190,0.55)', 1, 28),
  lineSet(channelMid, 'rgba(178,181,190,0.55)', 1, 28),
  lineSet(channelLow, 'rgba(178,181,190,0.55)', 1, 28),
  lineSet(sellDots, 'transparent', 0, 27, { showLine: false, pointRadius: 4.5, pointBackgroundColor: 'rgba(255,82,82,0.5)', pointBorderWidth: 0 }),
  lineSet(buyDots, 'transparent', 0, 27, { showLine: false, pointRadius: 4.5, pointBackgroundColor: 'rgba(76,175,80,0.5)', pointBorderWidth: 0 }),
  { type: 'bar', data: wicks, backgroundColor: '#000', barThickness: 1.3, grouped: false, order: 6 },
  { type: 'bar', data: bodies, backgroundColor: bodyColors, barThickness: 5, minBarLength: 1.5, grouped: false, order: 5 },
];
pivotLevels.forEach(v => priceSets.push(levelSet(346.1, 376.1, v, grayLine, 1.6, 4)));
midLevels.forEach(v => priceSets.push(levelSet(269, 375.2, v, '#c8cad0', 1.6, 4)));
targetLevels.forEach(v => priceSets.push(levelSet(269, 375.2, v, '#388e3c', 2.2, 3)));
priceSets.push(levelSet(269, 375.2, stopLevel, '#f23645', 2, 3));
orangeLevels.forEach(v => priceSets.push(levelSet(346.1, barMax, v, '#ff9800', 1.2, 2)));
limeLevels.forEach(v => priceSets.push(levelSet(358.1, barMax, v, '#1de28c', 1.4, 2)));
priceSets.push(levelSet(256, barMax, purpleLevel, '#e79cf0', 2, 3));
priceSets.push(levelSet(barMin, barMax, lastPrice, '#0a6e0a', 1, 2, { borderDash: [1.5, 2.5] }));
priceSets.push(levelSet(barMin, barMax, keyLevel, '#ff0000', 2, 2));
priceSets.push(lineSet(projection, '#3a66d6', 1.4, 1));
priceSets.push(lineSet(arrowHead, '#3a66d6', 1.4, 1));

// pivot names, level labels and the last price tag
const priceLabels = {
  id: 'priceLabels',
  afterDatasetsDraw(chart) {
    const { ctx, scales } = chart;
    const px = scales.x, py = scales.y;
    ctx.save();
    ctx.font = '13px Roboto';
    ctx.textBaseline = 'middle';
    ctx.textAlign = 'right';
    ctx.fillStyle = '#a9adb6';
    pivotLevels.forEach((v, i) => {
      ctx.fillText(pivotNames[i] + ' (' + v.toFixed(3) + ')', px.getPixelForValue(343.7), py.getPixelForValue(v));
    });
    ctx.textAlign = 'left';
    const labelX = px.getPixelForValue(377.3);
    ctx.fillStyle = '#5e9c66';
    targetLevels.forEach(v => ctx.fillText('(' + v.toFixed(3) + ')', labelX, py.getPixelForValue(v)));
    ctx.fillStyle = '#d5d6dc';
    midLevels.forEach(v => ctx.fillText('(' + v.toFixed(3) + ')', labelX, py.getPixelForValue(v)));
    ctx.fillStyle = '#f23645';
    ctx.fillText('(' + stopLevel.toFixed(3) + ')', labelX, py.getPixelForValue(stopLevel));

    const right = chart.chartArea.right;
    const tagY = py.getPixelForValue(lastPrice);
    ctx.fillStyle = '#008000';
    ctx.fillRect(right, tagY - 8, 60, 29);
    ctx.fillStyle = '#fff';
    ctx.font = '12.5px Roboto';
    ctx.fillText(lastPriceText, right + 6, tagY + 0.5);
    ctx.fillText(countdownText, right + 6, tagY + 13.5);
    ctx.restore();
  },
};

new Chart(document.getElementById('priceChart'), {
  type: 'bar',
  data: { datasets: priceSets },
  plugins: [priceLabels],
  options: {
    ...base,
    layout: { autoPadding: false, padding: { left: 55 } },
    scales: {
      x: { type: 'linear', min: barMin, max: barMax, display: false, offset: false },
      y: sideAxis(64, priceTicks, v => v.toFixed(3), { position: 'right', min: priceBottom, max: priceTop }),
    },
  },
});

const momentumIsUp = bar => momentumFlips.filter(f => f <= bar).length % 2 === 0;

new Chart(document.getElementById('momChart'), {
  type: 'line',
  data: {
    datasets: [
      lineSet(momentumZero, '#131722', 1.4, 2),
      lineSet(momentum, '#81c784', 3.4, 1, {
        borderCapStyle: 'round',
        borderJoinStyle: 'round',
        segment: { borderColor: ctx => momentumIsUp(ctx.p0.parsed.x) ? '#86ca8a' : '#f98880' },
      }),
    ],
  },
  options: {
    ...base,
    layout: { autoPadding: false, padding: { left: 55 } },
    scales: {
      x: { type: 'linear', min: barMin, max: barMax, display: false },
      y: sideAxis(64, momentumTicks, v => (v < 0 ? '\u2212' + Math.abs(v).toFixed(3) : v.toFixed(3)), { position: 'right', min: -67.7, max: 112.9 }),
    },
  },
});

new Chart(document.getElementById('stochChart'), {
  type: 'line',
  data: {
    datasets: [
      lineSet([[barMin, 50], [barMax, 50]], '#5d606b', 1.3, 9, { fill: { target: { value: 40 }, above: 'rgba(120,123,134,0.08)', below: 'rgba(120,123,134,0.08)' } }),
      lineSet([[barMin, 40], [barMax, 40]], '#5d606b', 1.3, 9),
      lineSet([[barMin, 80], [barMax, 80]], '#f23645', 1.1, 8),
      lineSet([[barMin, 20], [barMax, 20]], '#43a047', 1.1, 8),
      lineSet(slowK, '#66bb6a', 1.1, 4),
      lineSet(slowD, '#f4503f', 1.1, 3),
      lineSet(fastK, '#66bb6a', 0.9, 2),
      lineSet(fastD, '#f4503f', 0.9, 1),
    ],
  },
  options: {
    ...base,
    layout: { autoPadding: false },
    scales: {
      x: {
        type: 'linear', min: barMin, max: barMax, position: 'bottom',
        grid: { display: false }, border: { display: false },
        afterBuildTicks: s => { s.ticks = timeTickBars.map(v => ({ value: v })); },
        afterFit: s => { s.height = 28; noBox(s); },
        ticks: {
          autoSkip: false, maxRotation: 0, padding: 7, color: axisColor,
          font: ctx => ({ family: 'Roboto', size: 12.5, weight: ['Sep', 'Oct', 'Nov'].includes(timeTickLabels[ctx.index]) ? 'bold' : 'normal' }),
          callback: (v, i) => timeTickLabels[i],
        },
      },
      y: sideAxis(55, stochLeftTicks, v => v.toFixed(2), { position: 'left', min: -11.06, max: 114.2 }),
      y2: sideAxis(64, stochRightTicks, v => v.toFixed(2), { position: 'right', min: -1.4, max: 111.4 }),
    },
  },
});
</script>
</body>
</html>
